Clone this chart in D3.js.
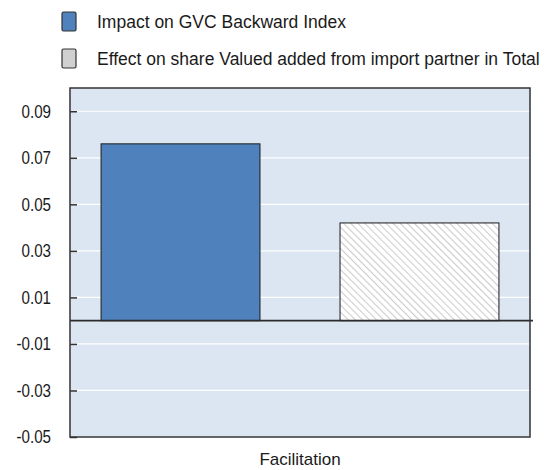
<!DOCTYPE html>
<html>
<head>
<meta charset="utf-8">
<script src="https://cdn.jsdelivr.net/npm/d3@7"></script>
<style>
  body { margin: 0; background: #fff; }
  text { font-family: "Liberation Sans", Arial, sans-serif; fill: #1a1a1a; }
</style>
</head>
<body>
<script>
/* data */
var categories = ["Facilitation"];
var seriesNames = ["Impact on GVC Backward Index", "Effect on share Valued added from import partner in Total"];
var seriesValues = [0.076, 0.042];
var tickValues = [-0.05, -0.03, -0.01, 0.01, 0.03, 0.05, 0.07, 0.09];
var tickLabels = ["-0.05", "-0.03", "-0.01", "0.01", "0.03", "0.05", "0.07", "0.09"];

var width = 550, height = 470;
var plotLeft = 70, plotRight = 530, plotTop = 88, plotBottom = 437;
var labelScale = 0.82;

var svg = d3.select("body").append("svg")
	.attr("width", width)
	.attr("height", height);

var defs = svg.append("defs");
var hatch = defs.append("pattern")
	.attr("id", "hatch")
	.attr("patternUnits", "userSpaceOnUse")
	.attr("width", 5)
	.attr("height", 5)
	.attr("patternTransform", "rotate(-45)");
hatch.append("rect").attr("width", 5).attr("height", 5).attr("fill", "#ffffff");
hatch.append("line")
	.attr("x1", 0).attr("y1", 0).attr("x2", 0).attr("y2", 5)
	.attr("stroke", "#cdcdcd")
	.attr("stroke-width", 2.2);

var y = d3.scaleLinear().domain([-0.05, 0.1]).range([plotBottom, plotTop]);
var x0 = d3.scaleBand().domain(categories).range([plotLeft, plotRight]);
var x1 = d3.scaleBand().domain(seriesNames).range([0, x0.bandwidth()])
	.paddingInner(0.335).paddingOuter(0.13);

var fills = ["#4f81bd", "url(#hatch)"];

// plot background
svg.append("rect")
	.attr("x", plotLeft).attr("y", plotTop)
	.attr("width", plotRight - plotLeft).attr("height", plotBottom - plotTop)
	.attr("fill", "#dce6f2");

// gridlines
svg.selectAll(".grid").data(tickValues).enter().append("line")
	.attr("x1", plotLeft).attr("x2", plotRight)
	.attr("y1", function(d) { return y(d); })
	.attr("y2", function(d) { return y(d); })
	.attr("stroke", "#ffffff")
	.attr("stroke-width", 1.2);

// bars
var groups = svg.selectAll(".cat").data(categories).enter().append("g")
	.attr("transform", function(c) { return "translate(" + x0(c) + ",0)"; });
groups.selectAll("rect").data(function() { return seriesValues; }).enter().append("rect")
	.attr("x", function(d, i) { return x1(seriesNames[i]); })
	.attr("width", x1.bandwidth())
	.attr("y", function(d) { return y(Math.max(0, d)); })
	.attr("height", function(d) { return Math.abs(y(d) - y(0)); })
	.attr("fill", function(d, i) { return fills[i]; })
	.attr("stroke", "#1a1a1a")
	.attr("stroke-width", 1);

// zero line
svg.append("line")
	.attr("x1", plotLeft).attr("x2", plotRight + 3)
	.attr("y1", y(0)).attr("y2", y(0))
	.attr("stroke", "#2b2b2b")
	.attr("stroke-width", 1.6);

// frame
svg.append("rect")
	.attr("x", plotLeft).attr("y", plotTop)
	.attr("width", plotRight - plotLeft).attr("height", plotBottom - plotTop)
	.attr("fill", "none")
	.attr("stroke", "#333333")
	.attr("stroke-width", 1.5);

// y axis
var yAxis = d3.axisLeft(y)
	.tickValues(tickValues)
	.tickFormat(function(d, i) { return tickLabels[i]; })
	.tickSizeInner(-7)
	.tickSizeOuter(0);
var ya = svg.append("g").attr("transform", "translate(" + plotLeft + ",0)").call(yAxis);
ya.select(".domain").remove();
ya.selectAll(".tick line").attr("stroke", "#333333").attr("stroke-width", 1.5);
ya.selectAll(".tick text")
	.attr("x", -19 / labelScale)
	.attr("transform", "scale(" + labelScale + ",1)")
	.style("font-size", "18.5px")
	.attr("fill", "#1a1a1a");

// x axis label
var xAxis = d3.axisBottom(x0).tickSize(0).tickPadding(16);
var xa = svg.append("g").attr("transform", "translate(0," + plotBottom + ")").call(xAxis);
xa.select(".domain").remove();
xa.selectAll(".tick text").style("font-size", "17px").attr("fill", "#1a1a1a");

// legend
var legend = svg.selectAll(".legend").data(seriesNames).enter().append("g")
	.attr("transform", function(d, i) { return "translate(62," + (12 + i * 37) + ")"; });
legend.append("rect")
	.attr("width", 14).attr("height", 19)
	.attr("rx", 1.5)
	.attr("fill", function(d, i) { return i === 0 ? "#4f81bd" : "#d0d0d0"; })
	.attr("stroke", "#333333")
	.attr("stroke-width", 1.2);
legend.append("text")
	.attr("x", 35).attr("y", 16)
	.style("font-size", "17.5px")
	.text(function(d) { return d; });
</script>
</body>
</html>
